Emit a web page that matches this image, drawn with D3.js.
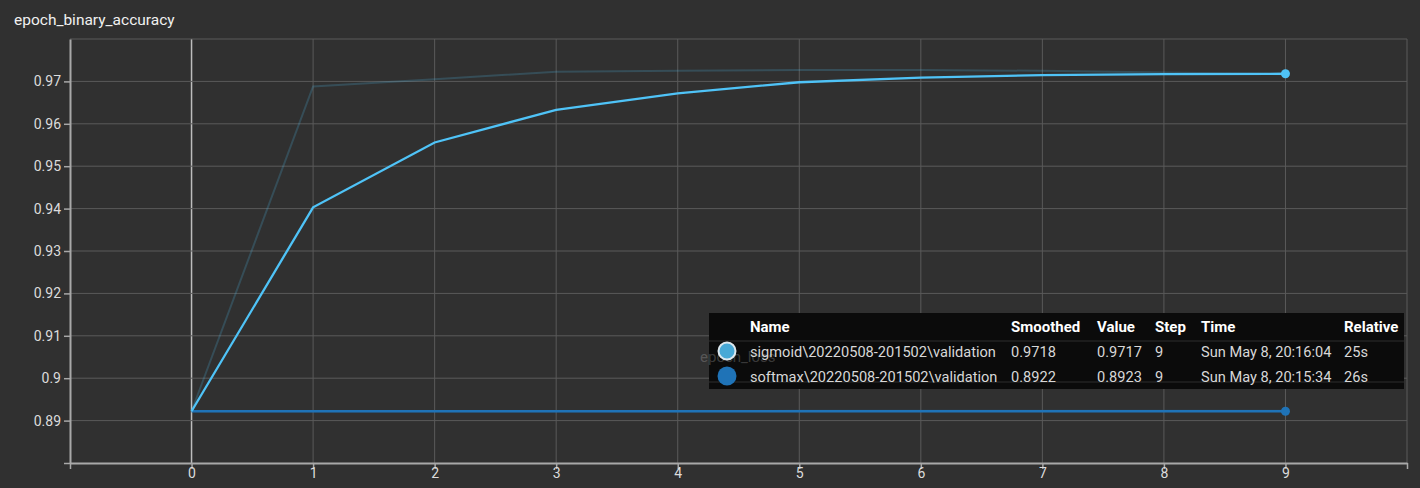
<!DOCTYPE html>
<html>
<head>
<meta charset="utf-8">
<script src="https://cdn.jsdelivr.net/npm/d3@7"></script>
<style>
  body { margin: 0; background: #303030; }
  svg { display: block; font-family: Roboto, "Noto Sans", sans-serif; }
</style>
</head>
<body>
<div id="vis"></div>
<script>
// frame constants
const FRAME_WIDTH = 1420;
const FRAME_HEIGHT = 488;
const MARGINS = {left: 70, right: 13, top: 39, bottom: 25};
const VIS_WIDTH = FRAME_WIDTH - MARGINS.left - MARGINS.right;
const VIS_HEIGHT = FRAME_HEIGHT - MARGINS.top - MARGINS.bottom;

// data
const steps = [0, 1, 2, 3, 4, 5, 6, 7, 8, 9];
const sigmoidRaw = [0.8922, 0.9688, 0.9705, 0.9723, 0.9725, 0.9727, 0.9727, 0.9725, 0.9721, 0.9717];
const sigmoidSmoothed = [0.8922, 0.9403, 0.9556, 0.9633, 0.9672, 0.9698, 0.9709, 0.9715, 0.9717, 0.9718];
const softmaxRaw = [0.8922, 0.8922, 0.8922, 0.8922, 0.8922, 0.8923, 0.8923, 0.8923, 0.8923, 0.8923];
const softmaxSmoothed = [0.8922, 0.8922, 0.8922, 0.8922, 0.8922, 0.8922, 0.8922, 0.8922, 0.8922, 0.8922];
const yTicks = [0.89, 0.9, 0.91, 0.92, 0.93, 0.94, 0.95, 0.96, 0.97];
const tableHeader = ["Name", "Smoothed", "Value", "Step", "Time", "Relative"];
const tableRows = [
  ["sigmoid\\20220508-201502\\validation", "0.9718", "0.9717", "9", "Sun May 8, 20:16:04", "25s"],
  ["softmax\\20220508-201502\\validation", "0.8922", "0.8923", "9", "Sun May 8, 20:15:34", "26s"]
];
const runColors = ["#4fc3f7", "#1f73b7"];

const FRAME = d3.select("#vis")
                .append("svg")
                  .attr("width", FRAME_WIDTH)
                  .attr("height", FRAME_HEIGHT);

FRAME.append("rect")
      .attr("width", FRAME_WIDTH)
      .attr("height", FRAME_HEIGHT)
      .attr("fill", "#303030");

// title
FRAME.append("text")
      .attr("x", 14)
      .attr("y", 25)
      .attr("fill", "#f0f0f0")
      .attr("font-size", "15.5px")
      .text("epoch_binary_accuracy");

// scales
const X_SCALE = d3.scaleLinear()
                  .domain([-1, 10])
                  .range([0, VIS_WIDTH]);
const Y_SCALE = d3.scaleLinear()
                  .domain([0.88, 0.98])
                  .range([VIS_HEIGHT, 0]);

const plot = FRAME.append("g")
                  .attr("transform", "translate(" + MARGINS.left + "," + MARGINS.top + ")");

// grid lines
plot.append("g")
    .selectAll("line")
    .data(d3.range(0, 11))
    .enter()
    .append("line")
      .attr("x1", (d) => X_SCALE(d))
      .attr("x2", (d) => X_SCALE(d))
      .attr("y1", 0)
      .attr("y2", VIS_HEIGHT)
      .attr("stroke", (d) => d === 0 ? "#bdbdbd" : "#5a5a5a")
      .attr("stroke-width", (d) => d === 0 ? 1.5 : 1);

plot.append("g")
    .selectAll("line")
    .data(yTicks.concat([0.98]))
    .enter()
    .append("line")
      .attr("x1", 0)
      .attr("x2", VIS_WIDTH)
      .attr("y1", (d) => Y_SCALE(d))
      .attr("y2", (d) => Y_SCALE(d))
      .attr("stroke", "#5a5a5a");

// axes
const xAxis = plot.append("g")
    .attr("transform", "translate(0," + VIS_HEIGHT + ")")
    .call(d3.axisBottom(X_SCALE).tickValues(d3.range(-1, 11)).tickSize(6).tickSizeOuter(0)
            .tickFormat((d) => (d >= 0 && d <= 9) ? d : ""));
const yAxis = plot.append("g")
    .call(d3.axisLeft(Y_SCALE).tickValues(yTicks.concat([0.88])).tickSize(6).tickSizeOuter(0)
            .tickFormat((d) => d === 0.88 ? "" : d3.format("")(d)));

[xAxis, yAxis].forEach((ax) => {
  ax.select(".domain").attr("stroke", "#a8a8a8").attr("stroke-width", 2);
  ax.selectAll(".tick line").attr("stroke", "#a8a8a8").attr("stroke-width", 1.5);
  ax.selectAll(".tick text").attr("fill", "#dcdcdc").attr("font-size", "14px")
    .attr("font-family", "Roboto, sans-serif");
});
xAxis.selectAll(".tick text").attr("y", 5).attr("dy", "0.71em");

// lines
const line = d3.line()
               .x((d, i) => X_SCALE(steps[i]))
               .y((d) => Y_SCALE(d));

plot.append("path")
    .datum(softmaxRaw)
    .attr("d", line)
    .attr("fill", "none")
    .attr("stroke", runColors[1])
    .attr("stroke-opacity", 0.3)
    .attr("stroke-width", 2);
plot.append("path")
    .datum(sigmoidRaw)
    .attr("d", line)
    .attr("fill", "none")
    .attr("stroke", runColors[0])
    .attr("stroke-opacity", 0.2)
    .attr("stroke-width", 2);
plot.append("path")
    .datum(softmaxSmoothed)
    .attr("d", line)
    .attr("fill", "none")
    .attr("stroke", runColors[1])
    .attr("stroke-width", 2.5);
plot.append("path")
    .datum(sigmoidSmoothed)
    .attr("d", line)
    .attr("fill", "none")
    .attr("stroke", runColors[0])
    .attr("stroke-width", 2.3);

// end points
plot.append("g")
    .selectAll("circle")
    .data([sigmoidSmoothed, softmaxSmoothed])
    .enter()
    .append("circle")
      .attr("cx", X_SCALE(steps[steps.length - 1]))
      .attr("cy", (d) => Y_SCALE(d[d.length - 1]))
      .attr("r", 4.5)
      .attr("fill", (d, i) => runColors[i]);

// tooltip table
const TIP = {x: 709, y: 313, w: 695, h: 76};
const colX = [750, 1011, 1097, 1155, 1201, 1344];
const tip = FRAME.append("g");
tip.append("rect")
   .attr("x", TIP.x).attr("y", TIP.y)
   .attr("width", TIP.w).attr("height", TIP.h)
   .attr("fill", "#0b0b0b");
[341, 382].forEach((yy) => {
  tip.append("line")
     .attr("x1", TIP.x).attr("x2", TIP.x + TIP.w)
     .attr("y1", yy).attr("y2", yy)
     .attr("stroke", "#2e2e2e");
});

// ghost title of the next card showing through
tip.append("text")
   .attr("x", 700).attr("y", 362)
   .attr("fill", "#ffffff").attr("fill-opacity", 0.2)
   .attr("font-size", "15px")
   .text("epoch_loss");

tip.selectAll(".head")
   .data(tableHeader)
   .enter()
   .append("text")
     .attr("x", (d, i) => colX[i])
     .attr("y", 332)
     .attr("fill", "#ffffff")
     .attr("font-weight", "bold")
     .attr("font-size", "15px")
     .text((d) => d);

tableRows.forEach((row, r) => {
  const yy = 357 + r * 25;
  tip.append("circle")
     .attr("cx", 727).attr("cy", yy - 6)
     .attr("r", r === 0 ? 8.5 : 9.5)
     .attr("fill", r === 0 ? "#48a9d6" : runColors[1])
     .attr("stroke", r === 0 ? "#dde8ee" : "none")
     .attr("stroke-width", 2);
  tip.selectAll(".cell" + r)
     .data(row)
     .enter()
     .append("text")
       .attr("x", (d, i) => colX[i])
       .attr("y", yy)
       .attr("fill", "#d8d8d8")
       .attr("font-size", "14.6px")
       .text((d) => d);
});
</script>
</body>
</html>
